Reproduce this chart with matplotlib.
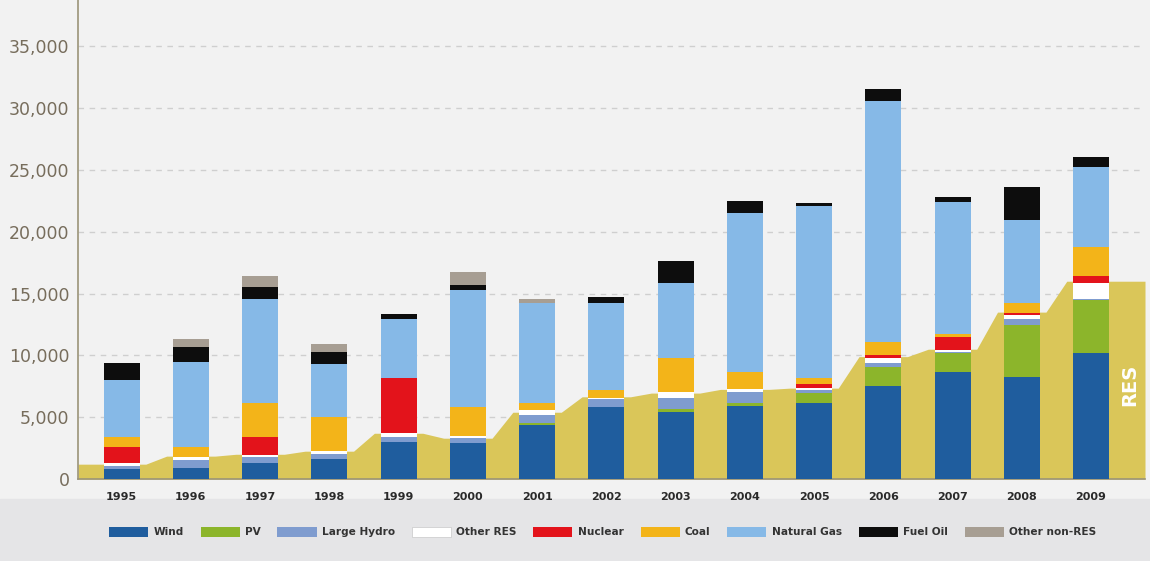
import matplotlib
matplotlib.use('Agg')
import matplotlib.pyplot as plt
import numpy as np
from matplotlib.patches import Patch
from matplotlib.ticker import FuncFormatter

years = ['1995', '1996', '1997', '1998', '1999', '2000', '2001', '2002',
         '2003', '2004', '2005', '2006', '2007', '2008', '2009']

wind         = [800, 870, 1270, 1620, 3020, 2890, 4370, 5850, 5450, 5930, 6170, 7520, 8680, 8280, 10170]
pv           = [0, 0, 0, 0, 0, 0, 190, 0, 190, 190, 810, 1570, 1540, 4180, 4310]
large_hydro  = [280, 670, 490, 400, 400, 400, 620, 600, 890, 940, 220, 320, 80, 460, 100]
other_res    = [200, 220, 180, 270, 330, 190, 400, 130, 530, 200, 140, 360, 140, 350, 1250]
nuclear      = [1270, 0, 1480, 0, 4400, 0, 0, 0, 0, 0, 320, 260, 1070, 190, 590]
coal         = [810, 850, 2750, 2750, 0, 2370, 540, 620, 2710, 1420, 540, 1080, 220, 750, 2380]
natural_gas  = [4640, 6880, 8370, 4240, 4770, 9440, 8090, 7010, 6110, 12870, 13890, 19500, 10710, 6740, 6420]
fuel_oil     = [1350, 1210, 960, 1020, 430, 410, 0, 490, 1760, 970, 210, 920, 400, 2650, 810]
other_nonres = [0, 600, 920, 600, 0, 1070, 330, 0, 0, 0, 0, 0, 0, 0, 0]

# cumulative RES capacity shown as background area
res_area = [1200, 1850, 2000, 2250, 3700, 3300, 5400, 6650, 6950, 7250, 7350, 9900, 10500, 13500, 16000]

y_ticks = [0, 5000, 10000, 15000, 20000, 25000, 30000, 35000]

series = [
    ('Wind', wind, '#1f5d9e'),
    ('PV', pv, '#8cb52b'),
    ('Large Hydro', large_hydro, '#7f9ccf'),
    ('Other RES', other_res, '#ffffff'),
    ('Nuclear', nuclear, '#e3131b'),
    ('Coal', coal, '#f3b419'),
    ('Natural Gas', natural_gas, '#86b9e7'),
    ('Fuel Oil', fuel_oil, '#0d0d0d'),
    ('Other non-RES', other_nonres, '#a79e93'),
]
area_color = '#dac659'

W, H = 1150, 561
fig = plt.figure(figsize=(W / 100, H / 100), dpi=100, facecolor='#f2f2f2')
fig.patches.append(plt.Rectangle((0, 0), 1, 0.11, transform=fig.transFigure,
                                 color='#e5e5e7', zorder=-10))
ax = fig.add_axes([78 / W, (H - 479) / H, (1145 - 78) / W, 479 / H])
ax.set_facecolor('none')

n = len(years)
x = np.arange(n)
xlim = (-0.63, 14.78)

# RES background area (flat across each year, short ramp between years)
ax_x, ax_y = [xlim[0]], [res_area[0]]
for i, v in enumerate(res_area):
    if i > 0:
        ax_x.append(i - 0.35); ax_y.append(v)
    if i < n - 1:
        ax_x.append(i + 0.35); ax_y.append(v)
ax_x.append(xlim[1]); ax_y.append(res_area[-1])
ax.fill_between(ax_x, ax_y, 0, color=area_color, lw=0, zorder=1)

bottom = np.zeros(n)
handles = []
for name, vals, col in series:
    vals = np.array(vals, dtype=float)
    ax.bar(x, vals, bottom=bottom, width=0.52, color=col, lw=0, zorder=3)
    bottom += vals
    if col == '#ffffff':
        handles.append(Patch(facecolor=col, edgecolor='#c8c8c8', lw=0.5, label=name))
    else:
        handles.append(Patch(facecolor=col, edgecolor='none', label=name))

ax.set_xlim(*xlim)
ax.set_ylim(0, 38750)
ax.set_yticks(y_ticks)
ax.yaxis.set_major_formatter(FuncFormatter(lambda v, p: f'{int(v):,}'))
ax.set_xticks(x)
ax.set_xticklabels(years)
ax.yaxis.grid(True, linestyle=(0, (4, 4)), color='#cfcfcf', lw=1.0, zorder=0)
ax.set_axisbelow(True)
for s in ['top', 'right']:
    ax.spines[s].set_visible(False)
for s in ['left', 'bottom']:
    ax.spines[s].set_color('#9b9478')
    ax.spines[s].set_linewidth(1.2)
ax.tick_params(axis='y', length=0, pad=6, labelsize=12.5, labelcolor='#776d5c')
ax.tick_params(axis='x', length=0, pad=9, labelsize=8, labelcolor='#2a2a2a')
for lbl in ax.get_xticklabels():
    lbl.set_fontweight('bold')

ax.text(14.56, 7600, 'RES', rotation=90, color='white', fontweight='bold',
        fontsize=14, ha='center', va='center', zorder=5)

leg = fig.legend(handles=handles, loc='center', bbox_to_anchor=(0.524, 0.052),
                 ncol=9, frameon=False, prop={'weight': 'bold', 'size': 7.6},
                 handlelength=3.7, handleheight=1.1, columnspacing=1.6,
                 handletextpad=0.5)
for t in leg.get_texts():
    t.set_color('#333333')

fig.savefig('out.png', dpi=100, facecolor=fig.get_facecolor())
